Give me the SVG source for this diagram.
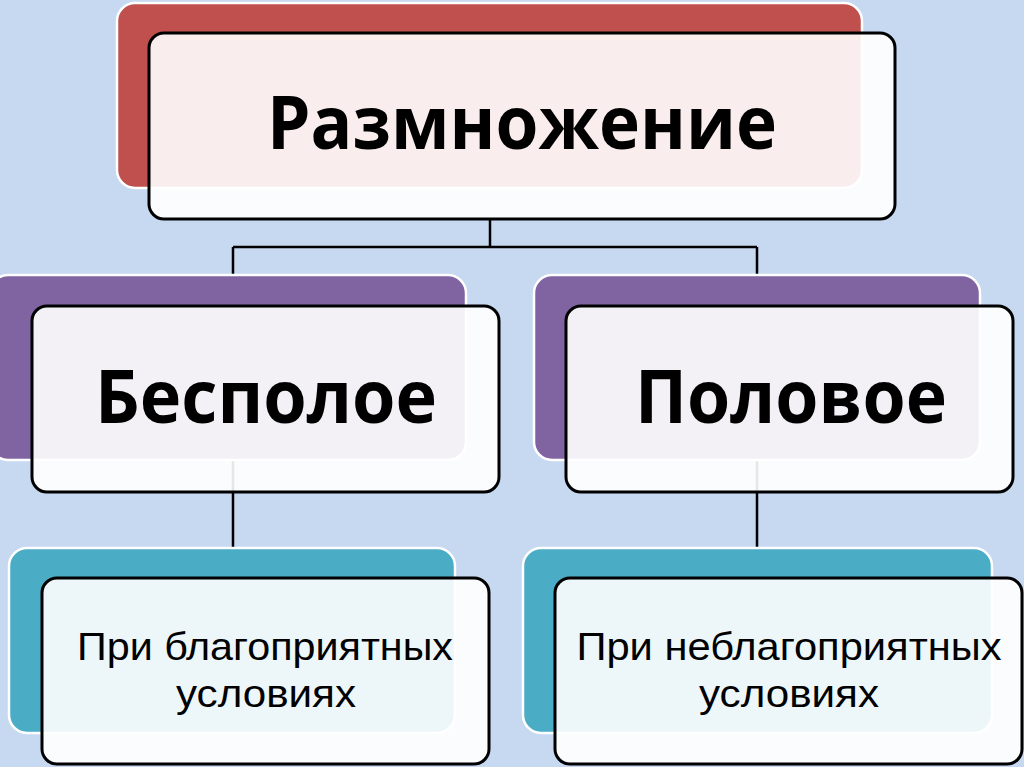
<svg xmlns="http://www.w3.org/2000/svg" width="1024" height="767" viewBox="0 0 1024 767">
<style>
.bg{fill:#c6d9f1}
.back{stroke:#ffffff;stroke-width:2.5}
.red{fill:#c0504d}
.purple{fill:#8064a2}
.teal{fill:#4bacc6}
.front{fill:#ffffff;fill-opacity:0.9;stroke:#000000;stroke-width:3}
.conn{stroke:#000000;stroke-width:2.5;fill:none}
.big{font-family:"Open Sans","Noto Sans","Liberation Sans",sans-serif;font-weight:bold;font-size:74px;fill:#000000}
.small{font-family:"Liberation Sans","Open Sans",sans-serif;font-size:39px;fill:#000000}
</style>
<rect class="bg" x="0" y="0" width="1024" height="767"/>
<g id="connectors">
<path class="conn" d="M490 218 V247 M233 247 H757 M233 247 V308 M757 247 V308 M233 460 V580 M757 460 V580"/>
</g>
<g id="node-root">
<rect class="back red" x="117" y="3" width="745" height="185" rx="18"/>
<rect class="front" x="149" y="33" width="746" height="186" rx="15"/>
<text class="big" x="522" y="149" text-anchor="middle" textLength="510" lengthAdjust="spacingAndGlyphs">Размножение</text>
</g>
<g id="node-asexual">
<rect class="back purple" x="-10" y="275" width="476" height="185" rx="18"/>
<rect class="front" x="32" y="306" width="467" height="186" rx="15"/>
<text class="big" x="266" y="423" text-anchor="middle" textLength="342" lengthAdjust="spacingAndGlyphs">Бесполое</text>
</g>
<g id="node-sexual">
<rect class="back purple" x="534" y="275" width="446" height="185" rx="18"/>
<rect class="front" x="566" y="306" width="447" height="186" rx="15"/>
<text class="big" x="791" y="423" text-anchor="middle" textLength="312" lengthAdjust="spacingAndGlyphs">Половое</text>
</g>
<g id="node-favorable">
<rect class="back teal" x="9" y="548" width="446" height="185" rx="18"/>
<rect class="front" x="42" y="578" width="447" height="186" rx="15"/>
<text class="small" x="265" y="660" text-anchor="middle" textLength="376" lengthAdjust="spacingAndGlyphs">При благоприятных</text>
<text class="small" x="266" y="707" text-anchor="middle" textLength="180" lengthAdjust="spacingAndGlyphs">условиях</text>
</g>
<g id="node-unfavorable">
<rect class="back teal" x="523" y="548" width="469" height="185" rx="18"/>
<rect class="front" x="555" y="578" width="467" height="186" rx="15"/>
<text class="small" x="789" y="660" text-anchor="middle" textLength="425" lengthAdjust="spacingAndGlyphs">При неблагоприятных</text>
<text class="small" x="789" y="707" text-anchor="middle" textLength="180" lengthAdjust="spacingAndGlyphs">условиях</text>
</g>
</svg>
